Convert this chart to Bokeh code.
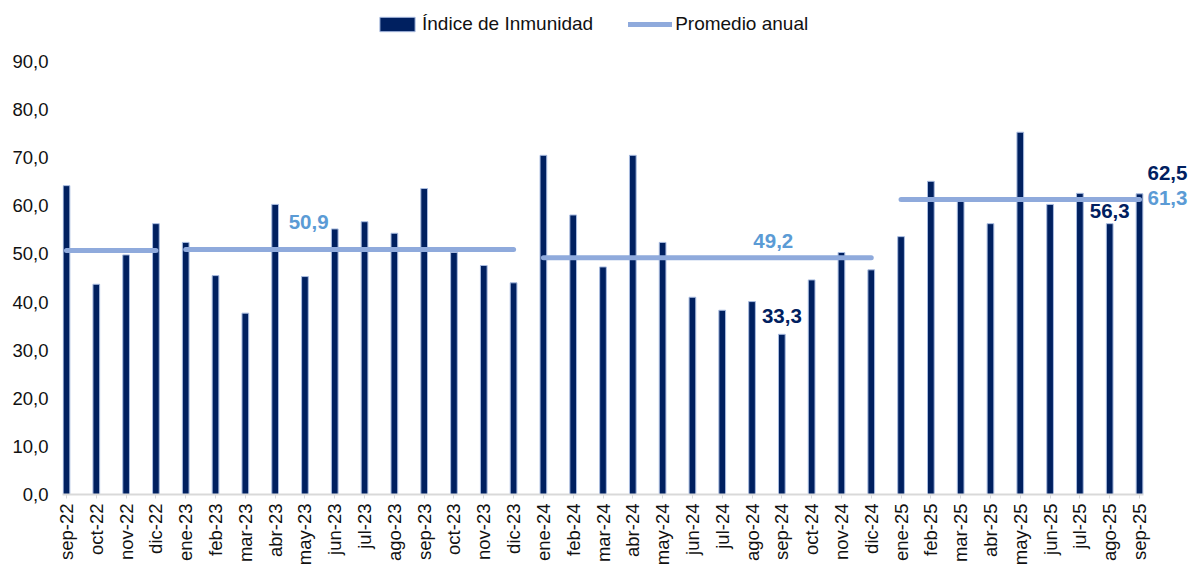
import math
from bokeh.plotting import figure
from bokeh.models import Range1d, FixedTicker, Legend, LegendItem, Label
from bokeh.embed import file_html
from bokeh.resources import INLINE

# ---------------- data ----------------
months = ["sep-22", "oct-22", "nov-22", "dic-22",
          "ene-23", "feb-23", "mar-23", "abr-23", "may-23", "jun-23",
          "jul-23", "ago-23", "sep-23", "oct-23", "nov-23", "dic-23",
          "ene-24", "feb-24", "mar-24", "abr-24", "may-24", "jun-24",
          "jul-24", "ago-24", "sep-24", "oct-24", "nov-24", "dic-24",
          "ene-25", "feb-25", "mar-25", "abr-25", "may-25", "jun-25",
          "jul-25", "ago-25", "sep-25"]
immunity = [64.2, 43.7, 49.8, 56.3,
            52.4, 45.5, 37.7, 60.3, 45.3, 55.2,
            56.7, 54.3, 63.6, 50.3, 47.6, 44.0,
            70.5, 58.1, 47.3, 70.5, 52.4, 41.0,
            38.3, 40.1, 33.3, 44.6, 50.3, 46.7,
            53.6, 65.1, 61.5, 56.3, 75.3, 60.3,
            62.6, 56.3, 62.5]

avg_values = [50.7, 50.9, 49.2, 61.3]
avg_start = ["sep-22", "ene-23", "ene-24", "ene-25"]
avg_end = ["dic-22", "dic-23", "dic-24", "sep-25"]

y_ticks = [0, 10, 20, 30, 40, 50, 60, 70, 80, 90]

labeled_bars = ["sep-24", "ago-25", "sep-25"]
labeled_avgs = [1, 2, 3]

series_names = ["Índice de Inmunidad", "Promedio anual"]


def fmt(v):
    return f"{v:.1f}".replace(".", ",")


FONT = "Liberation Sans"
NAVY = "#002060"
LINE_BLUE = "#8FAADC"
LABEL_BLUE = "#5B9BD5"

idx = list(range(len(months)))
pos = {m: i for i, m in enumerate(months)}

W, H = 1195, 573
LEFT, BOTTOM = 62, 79
PX_PER_CAT = 29.806
PX_PER_UNIT = 4.811
PAD = 0.134
frame_w = W - LEFT
frame_h = H - BOTTOM
x0 = -PAD
x1 = x0 + frame_w / PX_PER_CAT
y1 = frame_h / PX_PER_UNIT

p = figure(width=W, height=H,
           x_range=Range1d(x0, x1),
           y_range=Range1d(0, y1),
           output_backend="svg", toolbar_location=None,
           min_border_left=LEFT, min_border_right=0,
           min_border_top=0, min_border_bottom=BOTTOM)
p.outline_line_color = None
p.xgrid.visible = False
p.ygrid.visible = False
p.background_fill_color = "white"
p.border_fill_color = "white"

bars = p.vbar(x=idx, top=immunity, width=0.225, bottom=0,
              fill_color=NAVY, line_color="#A9BCE0", line_width=1)

xs = [[pos[s], pos[e]] for s, e in zip(avg_start, avg_end)]
ys = [[v, v] for v in avg_values]
lines = p.multi_line(xs=xs, ys=ys, line_color=LINE_BLUE, line_width=5,
                     line_cap="round")

# axes
xa = p.xaxis[0]
xa.bounds = (x0, len(months) - 1 + PAD)
xa.ticker = FixedTicker(ticks=idx)
xa.major_label_overrides = {i: m for i, m in enumerate(months)}
xa.major_label_orientation = math.pi / 2
xa.major_label_text_font = FONT
xa.major_label_text_font_size = "18.5px"
xa.major_label_text_color = "#111111"
xa.axis_line_color = "#D9D9D9"
xa.axis_line_width = 2
xa.major_tick_line_color = "#D9D9D9"
xa.major_tick_line_width = 1
xa.major_tick_out = 4
xa.major_tick_in = 0
xa.minor_tick_line_color = None
xa.major_label_standoff = 5

ya = p.yaxis[0]
ya.ticker = FixedTicker(ticks=y_ticks)
ya.major_label_overrides = {t: fmt(t) for t in y_ticks}
ya.major_label_text_font = FONT
ya.major_label_text_font_size = "18.5px"
ya.major_label_text_color = "#111111"
ya.axis_line_color = None
ya.major_tick_line_color = None
ya.minor_tick_line_color = None
ya.major_tick_out = 0
ya.major_label_standoff = 14

# legend
legend = Legend(items=[LegendItem(label=series_names[0], renderers=[bars]),
                       LegendItem(label=series_names[1], renderers=[lines])],
                orientation="horizontal", location=(313, frame_h - 35),
                glyph_width=44, glyph_height=18, label_standoff=3,
                spacing=35, padding=0, margin=0,
                border_line_alpha=0, background_fill_alpha=0,
                label_text_font=FONT, label_text_font_size="19px",
                label_text_color="#111111")
p.add_layout(legend)

# data labels for bars
bar_label_offsets = {"sep-24": (0, 18), "ago-25": (0, 13), "sep-25": (28, 21)}
for m in labeled_bars:
    v = immunity[pos[m]]
    dx, dy = bar_label_offsets[m]
    p.add_layout(Label(x=pos[m], y=v, text=fmt(v), x_offset=dx, y_offset=dy,
                       text_align="center", text_baseline="middle",
                       text_font=FONT, text_font_size="20.5px",
                       text_font_style="bold", text_color=NAVY))

# data labels for annual averages
avg_label_offsets = {1: (-41, 28), 2: (66, 17), 3: (28, 2)}
for k in labeled_avgs:
    v = avg_values[k]
    if k == 3:
        ax = pos[avg_end[k]]
    else:
        ax = (pos[avg_start[k]] + pos[avg_end[k]]) / 2
    dx, dy = avg_label_offsets[k]
    p.add_layout(Label(x=ax, y=v, text=fmt(v), x_offset=dx, y_offset=dy,
                       text_align="center", text_baseline="middle",
                       text_font=FONT, text_font_size="20.5px",
                       text_font_style="bold", text_color=LABEL_BLUE))

open("out.html", "w").write(file_html(p, INLINE))
